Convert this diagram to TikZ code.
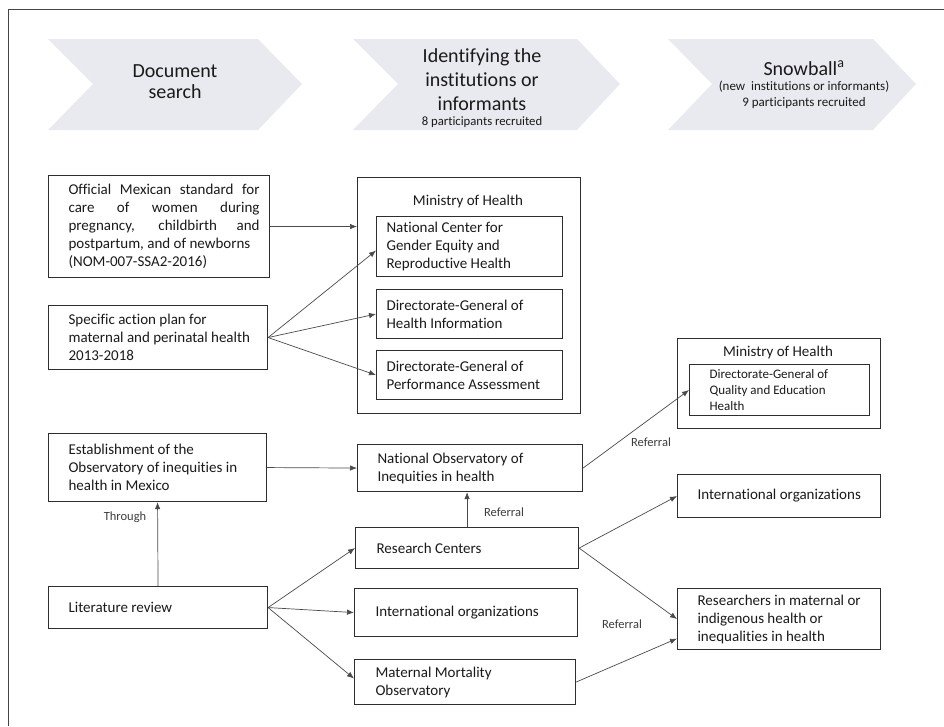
\documentclass[tikz,border=0pt]{standalone}
\usepackage{fontspec}
\setmainfont{Carlito}[Ligatures={NoCommon}]
\usetikzlibrary{arrows.meta,calc}
\definecolor{chev}{HTML}{E8EAEF}
\definecolor{boxc}{HTML}{2E2E2E}
\definecolor{arrc}{HTML}{4A4A4A}
\definecolor{txtc}{HTML}{1A1A1A}
\definecolor{framec}{HTML}{454545}
\newcommand{\bt}[3]{\makebox[#2][l]{\hspace*{#1}\parbox[c]{\dimexpr#2-#1-2pt\relax}{\raggedright #3}}}
\begin{document}
\begin{tikzpicture}[x=1pt,y=-1pt,
  box/.style={draw=boxc,line width=1.1pt,inner sep=0pt,anchor=north west,text=txtc,font=\fontsize{15}{18}\selectfont},
  conn/.style={draw=arrc,line width=0.7pt,-{Latex[length=7pt,width=5.5pt]}},
  lab/.style={font=\fontsize{12.5}{14}\selectfont,text=txtc!85,inner sep=0pt},
  chevtxt/.style={align=center,text=txtc,inner sep=0pt},
  title/.style={font=\fontsize{15}{18}\selectfont,text=txtc,inner sep=0pt}]
\useasboundingbox (0,0) rectangle (944,726);
% outer frame
\draw[framec,line width=1.3pt] (8.5,726) -- (8.5,9.5) -- (944,9.5);
% chevrons
\fill[chev] (48,39) -- (258,39) -- (302,84) -- (258,130) -- (48,130) -- (93,84) -- cycle;
\fill[chev] (353,39) -- (577,39) -- (620,84) -- (577,130) -- (353,130) -- (398,84) -- cycle;
\fill[chev] (668,39) -- (873,39) -- (916,84) -- (873,130) -- (668,130) -- (712,84) -- cycle;
\node[chevtxt,font=\fontsize{20}{21}\selectfont] (c1) at (175,82) {Document\\search};
\node[chevtxt,font=\fontsize{20}{24}\selectfont] (c2) at (482,80) {Identifying the\\institutions or\\informants};
\node[chevtxt,font=\fontsize{12.7}{14}\selectfont,anchor=base] (c2s) at (482,125) {8 participants recruited};
\node[chevtxt,font=\fontsize{20}{24}\selectfont,anchor=base] (c3) at (804,75) {Snowball\textsuperscript{a}};
\node[chevtxt,font=\fontsize{13}{15.5}\selectfont] (c3s) at (804,95) {(new\ \ institutions or informants)\\9 participants recruited};
% left column
\node[box,minimum height=102pt] (bA) at (48,175) {\makebox[221pt][l]{\hspace*{20pt}\parbox[c]{191pt}{Official Mexican standard for\linebreak care of women during\linebreak pregnancy, childbirth and\linebreak postpartum, and of newborns\\(NOM-007-SSA2-2016)}}};
\node[box,minimum height=64pt] (bB) at (48,305) {\bt{20pt}{219pt}{Specific action plan for\\maternal and perinatal health\\2013-2018}};
\node[box,minimum height=68pt] (bC) at (48,433) {\bt{20pt}{218pt}{Establishment of the\\Observatory of inequities in\\health in Mexico}};
\node[box,minimum height=42pt] (bD) at (48,586) {\bt{20pt}{219pt}{Literature review}};
% middle column
\node[box,minimum width=223pt,minimum height=236pt] (min1) at (357,177) {};
\node[title] (min1t) at (468,201) {Ministry of Health};
\node[box,minimum height=60pt] (in1) at (376,216) {\bt{10pt}{186pt}{National Center for\\Gender Equity and\\Reproductive Health}};
\node[box,minimum height=49pt] (in2) at (376,289) {\bt{10pt}{186pt}{Directorate-General of\\Health Information}};
\node[box,minimum height=49pt] (in3) at (376,350) {\bt{10pt}{186pt}{Directorate-General of\\Performance Assessment}};
\node[box,minimum height=47pt] (nat) at (357,444) {\bt{20pt}{225pt}{National Observatory of\\Inequities in health}};
\node[box,minimum height=41pt] (rc) at (355,527) {\bt{21pt}{223pt}{Research Centers}};
\node[box,minimum height=48pt] (io1) at (354,588) {\bt{21pt}{223pt}{International organizations}};
\node[box,minimum height=45pt] (mmo) at (354,659) {\bt{21pt}{221pt}{Maternal Mortality\\Observatory}};
% right column
\node[box,minimum width=203pt,minimum height=90pt] (min2) at (677,338) {};
\node[title] (min2t) at (778,352) {Ministry of Health};
\node[box,minimum height=51pt,font=\fontsize{13}{16}\selectfont] (inm) at (689,364) {\bt{20pt}{180pt}{Directorate-General of\\Quality and Education\\Health}};
\node[box,minimum height=43pt] (io2) at (677,474) {\bt{20pt}{203pt}{International organizations}};
\node[box,minimum height=61pt] (res) at (677,588) {\bt{20pt}{203pt}{Researchers in maternal or\\indigenous health or\\inequalities in health}};
% connectors
\draw[conn] (bA.east) -- (bA.east -| min1.west);
\draw[conn] (bB.east) -- ([yshift=-4pt]in1.west);
\draw[conn] (bB.east) -- (in2.west);
\draw[conn] (bB.east) -- (in3.west);
\draw[conn] (bC.east) -- (nat.west);
\draw[conn] (bD.north) -- (bC.south);
\draw[conn] (bD.east) -- (rc.west);
\draw[conn] (bD.east) -- (io1.west);
\draw[conn] (bD.east) -- ([yshift=3.5pt]mmo.west);
\draw[conn] (rc.north) -- (rc.north |- nat.south);
\draw[conn] (nat.east) -- (inm.west);
\draw[conn] (rc.east) -- (io2.west);
\draw[conn] (rc.east) -- (res.west);
\draw[conn] (mmo.east) -- ([yshift=-19.5pt]res.west);
% labels
\node[lab] (lt) at (125,517) {Through};
\node[lab] (lr1) at (504,512) {Referral};
\node[lab] (lr2) at (651,442) {Referral};
\node[lab] (lr3) at (622,624) {Referral};
\end{tikzpicture}
\end{document}
